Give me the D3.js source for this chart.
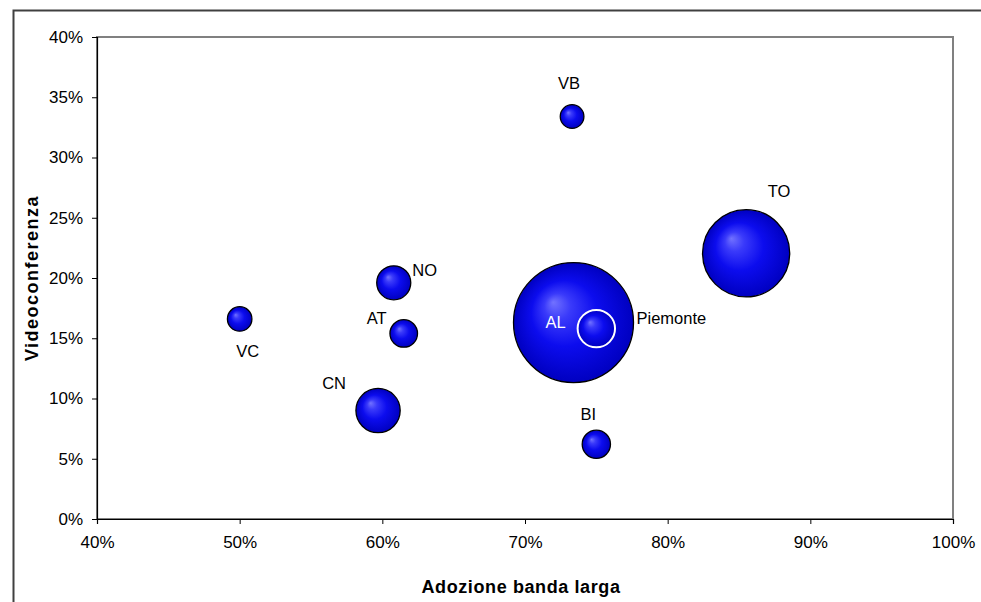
<!DOCTYPE html>
<meta charset="utf-8">
<style>
body { margin: 0; background: #fff; }
text { font-family: "Liberation Sans", Arial, sans-serif; fill: #000; }
.tick text { font-size: 17px; }
.axis-title { font-size: 18px; font-weight: bold; }
.lbl { font-size: 16.5px; }
</style>
<body>
<svg width="981" height="602"></svg>
<script src="https://d3js.org/d3.v7.min.js"></script>
<script>

// data
var provinces = ["VC", "NO", "AT", "CN", "VB", "BI", "TO", "AL", "Piemonte"];
var banda     = [50.0, 60.8, 61.5, 59.7, 73.3, 75.0, 85.5, 73.4, 75.0];   // Adozione banda larga (%)
var video     = [16.6, 19.6, 15.4, 9.0, 33.4, 6.2, 22.05, 16.3, 15.8];    // Videoconferenza (%)
var sizes     = [1.5, 2.9, 1.9, 4.9, 1.4, 2.0, 19.0, 36.0, 3.5];          // bubble size
var xTicks = [40, 50, 60, 70, 80, 90, 100];
var yTicks = [0, 5, 10, 15, 20, 25, 30, 35, 40];

// label offsets (px) from bubble centre, like excel's label placement
var labelOffset = {
  VC: [8, 32], NO: [31, -13], AT: [-27, -15], CN: [-44, -27], VB: [-3, -33],
  BI: [-8, -30], TO: [33, -62], AL: [-18, 0], Piemonte: [75, -10]
};

var svg = d3.select("svg"),
    margin = {top: 37, right: 28, bottom: 83, left: 97},
    width = 981 - margin.left - margin.right,
    height = 602 - margin.top - margin.bottom;

var defs = svg.append("defs");
var grad = defs.append("radialGradient")
    .attr("id", "ball")
    .attr("cx", "50%").attr("cy", "50%").attr("r", "50%")
    .attr("fx", "33%").attr("fy", "33%");
grad.append("stop").attr("offset", "0%").attr("stop-color", "#7272ff");
grad.append("stop").attr("offset", "22%").attr("stop-color", "#3a3afa");
grad.append("stop").attr("offset", "55%").attr("stop-color", "#0c0cee");
grad.append("stop").attr("offset", "100%").attr("stop-color", "#0000c0");

// outer chart frame
svg.append("rect")
    .attr("x", 13.5).attr("y", 10.5)
    .attr("width", 1000).attr("height", 700)
    .attr("fill", "none")
    .attr("stroke", "#404040")
    .attr("stroke-width", 2);

var g = svg.append("g")
    .attr("transform", "translate(" + margin.left + "," + margin.top + ")");

var x = d3.scaleLinear().domain([40, 100]).range([0, width]);
var y = d3.scaleLinear().domain([0, 40]).range([height, 0]);
var r = d3.scaleSqrt().domain([0, 36]).range([0, 60]);

// plot area border
g.append("rect")
    .attr("width", width).attr("height", height)
    .attr("fill", "none")
    .attr("stroke", "#808080")
    .attr("stroke-width", 2);

var xAxis = g.append("g")
    .attr("transform", "translate(0," + height + ")")
    .call(d3.axisBottom(x).tickValues(xTicks).tickSize(5).tickPadding(12)
      .tickFormat(function(d) { return d + "%"; }));

var yAxis = g.append("g")
    .call(d3.axisLeft(y).tickValues(yTicks).tickSize(5).tickPadding(9)
      .tickFormat(function(d) { return d + "%"; }));

[xAxis, yAxis].forEach(function(a) {
  a.select(".domain").attr("stroke", "#000").attr("stroke-width", 1.2);
  a.selectAll(".tick line").attr("stroke", "#000");
  a.selectAll(".tick text").attr("fill", "#000");
});

g.append("text")
    .attr("class", "axis-title")
    .attr("x", width / 2 - 4)
    .attr("y", height + 74)
    .attr("text-anchor", "middle")
    .style("letter-spacing", "0.6px")
    .text("Adozione banda larga");

g.append("text")
    .attr("class", "axis-title")
    .attr("transform", "translate(-59," + (height / 2) + ") rotate(-90)")
    .attr("text-anchor", "middle")
    .style("letter-spacing", "1.5px")
    .text("Videoconferenza");

var data = provinces.map(function(p, i) {
  return {name: p, x: banda[i], y: video[i], s: sizes[i]};
});

// bubbles, the Piemonte average drawn last with a white ring
g.selectAll("circle.bubble")
    .data(data)
  .enter().append("circle")
    .attr("class", "bubble")
    .attr("cx", function(d) { return x(d.x); })
    .attr("cy", function(d) { return y(d.y); })
    .attr("r", function(d) { return r(d.s); })
    .attr("fill", "url(#ball)")
    .attr("stroke", function(d) { return d.name == "Piemonte" ? "#fff" : "#000"; })
    .attr("stroke-width", function(d) { return d.name == "Piemonte" ? 2 : 1.3; });

g.selectAll("text.lbl")
    .data(data)
  .enter().append("text")
    .attr("class", "lbl")
    .attr("x", function(d) { return x(d.x) + labelOffset[d.name][0]; })
    .attr("y", function(d) { return y(d.y) + labelOffset[d.name][1]; })
    .attr("dy", "0.35em")
    .attr("text-anchor", "middle")
    .style("fill", function(d) { return d.name == "AL" ? "#fff" : "#000"; })
    .text(function(d) { return d.name; });

</script>
</body>
